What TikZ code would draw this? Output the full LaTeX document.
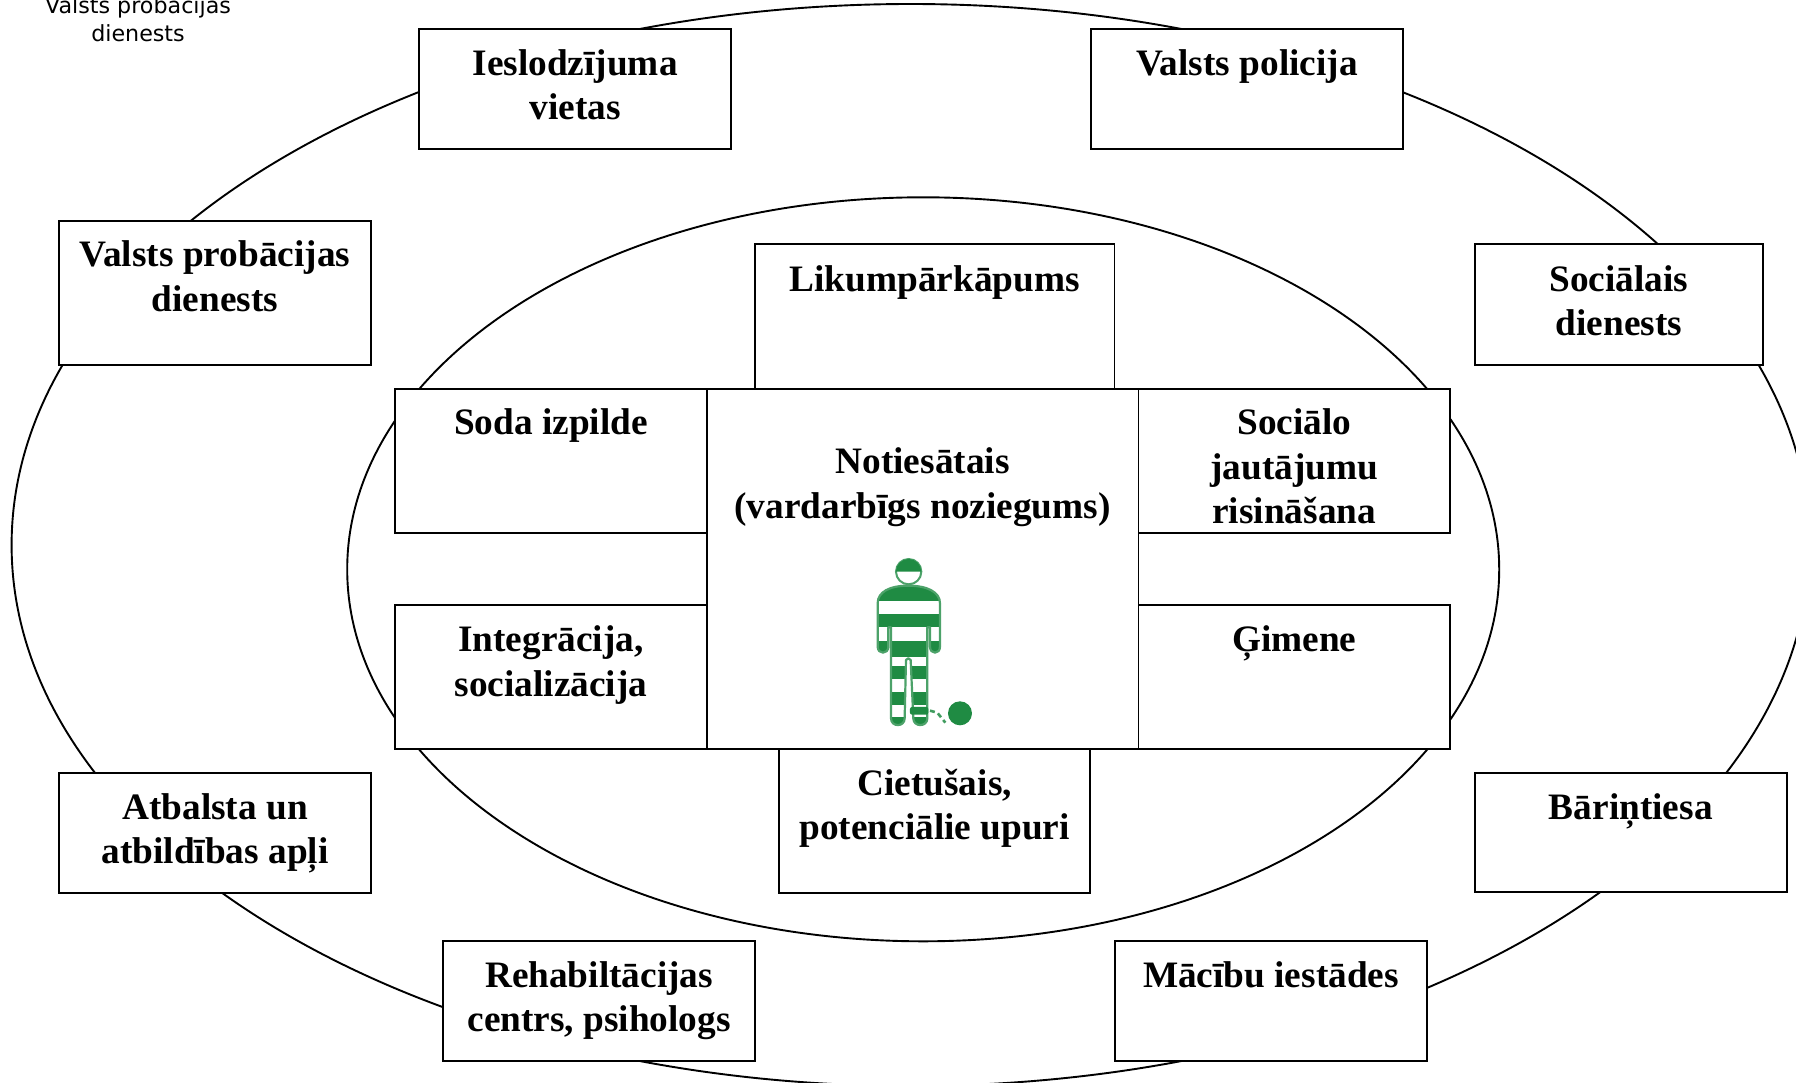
\documentclass[tikz,border=0pt]{standalone}
\usepackage{fontspec}
\setmainfont{Liberation Serif}
\newfontfamily\lblfont{DejaVu Sans}
\definecolor{prisongreen}{HTML}{1F8B43}
\tikzset{
  boxnode/.style={draw=black,line width=1.9pt,fill=white,rectangle,inner sep=0pt,outer sep=0pt,anchor=north west,font=\fontsize{37.3}{44.7}\selectfont\bfseries},
  ringline/.style={draw=black,line width=1.9pt},
  toplabel/.style={font=\lblfont\fontsize{22.2}{28}\selectfont,text=black,align=center,inner sep=0pt}
}
\newcommand{\bx}[7]{%
  \pgfmathsetlengthmacro{\bw}{#4-#2}%
  \pgfmathsetlengthmacro{\bh}{#5-#3}%
  \node[boxnode,minimum width=\bw,minimum height=\bh] (#1) at (#2,#3)
    {\parbox[c][\bh][t]{\bw}{\centering\rule{0pt}{#6pt}#7}};%
}
\begin{document}
\begin{tikzpicture}[x=1pt,y=-1pt]
\useasboundingbox (0,0) rectangle (1796,1082);
\clip (0,0) rectangle (1796,1082);
\fill[white] (0,0) rectangle (1796,1082);
\draw[ringline] (910.6,545) ellipse [x radius=899pt,y radius=541pt];
\draw[ringline] (923.2,569.3) ellipse [x radius=576pt,y radius=372pt];
\node[toplabel] (lbl) at (138,19) {Valsts probācijas\\dienests};
\bx{ies}{419.4}{28.6}{730.8}{148.9}{46.5}{Ieslodzījuma\\vietas}
\bx{pol}{1091}{28.6}{1403.1}{148.9}{46.5}{Valsts policija}
\bx{prob}{59}{221}{371.1}{365.4}{45.5}{Valsts probācijas\\dienests}
\bx{soc}{1474.8}{244}{1762.8}{365.4}{47}{Sociālais\\dienests}
\bx{lik}{754.8}{244.4}{1114.5}{389.4}{47}{Likumpārkāpums}
\bx{soda}{395.2}{389.4}{706.7}{532.6}{45}{Soda izpilde}
\bx{jaut}{1138.5}{389.4}{1450}{532.6}{45}{Sociālo\\jautājumu\\risināšana}
\bx{integ}{395.2}{604.8}{706.7}{749.1}{47}{Integrācija,\\socializācija}
\bx{gim}{1138.5}{604.8}{1450}{749.1}{47}{Ģimene}
\bx{cent}{706.7}{389.4}{1138.5}{749.1}{84}{Notiesātais\\(vardarbīgs noziegums)}
\bx{ciet}{778.9}{749.1}{1090.4}{893.4}{46}{Cietušais,\\potenciālie upuri}
\bx{atb}{59}{773.1}{371.1}{893.4}{46}{Atbalsta un\\atbildības apļi}
\bx{bar}{1474.8}{773.1}{1786.8}{892.3}{46}{Bāriņtiesa}
\bx{reh}{443.3}{941.2}{754.8}{1061.4}{46}{Rehabiltācijas\\centrs, psihologs}
\bx{mac}{1114.8}{941.2}{1427.2}{1061.4}{46}{Mācību iestādes}
% prisoner figure, drawn in the zoom crop's coordinates
\begin{scope}[shift={(780,520)},x=0.3333pt,y=-0.3333pt]
  \begin{scope}
    \clip (293,250) .. controls (293,215) and (330,197) .. (385,197) .. controls (440,197) and (480,215) .. (480,250) -- (480,380) .. controls (480,404) and (450,404) .. (450,380) -- (450,322) -- (442,322) -- (442,595) .. controls (442,622) and (400,622) .. (400,595) -- (392,420) -- (385,415) -- (378,420) -- (374,595) .. controls (374,622) and (333,622) .. (333,595) -- (333,322) -- (325,322) -- (325,380) .. controls (325,404) and (293,404) .. (293,380) -- cycle;
    \fill[prisongreen] (280,190) rectangle (490,242);
    \fill[prisongreen] (280,283) rectangle (490,320);
    \fill[prisongreen] (280,362) rectangle (490,410);
    \fill[prisongreen] (280,438) rectangle (490,478);
    \fill[prisongreen] (280,515) rectangle (490,555);
    \fill[prisongreen] (280,590) rectangle (490,630);
  \end{scope}
  \draw[prisongreen!80,line width=2.2pt,line join=round] (293,250) .. controls (293,215) and (330,197) .. (385,197) .. controls (440,197) and (480,215) .. (480,250) -- (480,380) .. controls (480,404) and (450,404) .. (450,380) -- (450,322) -- (442,322) -- (442,595) .. controls (442,622) and (400,622) .. (400,595) -- (392,420) -- (385,415) -- (378,420) -- (374,595) .. controls (374,622) and (333,622) .. (333,595) -- (333,322) -- (325,322) -- (325,380) .. controls (325,404) and (293,404) .. (293,380) -- cycle;
  \draw[prisongreen!80,line width=2pt] (386,155) circle [radius=38];
  \fill[prisongreen] (348,155) arc [start angle=180,end angle=360,radius=38] -- cycle;
  \fill[prisongreen,rounded corners=2pt] (390,561) rectangle (445,584);
  \draw[prisongreen!85,line width=2.6pt,dash pattern=on 5pt off 3.5pt] (450,572) -- (472,578) -- (496,608);
  \fill[prisongreen] (540,580) circle [radius=36];
\end{scope}
\end{tikzpicture}
\end{document}
